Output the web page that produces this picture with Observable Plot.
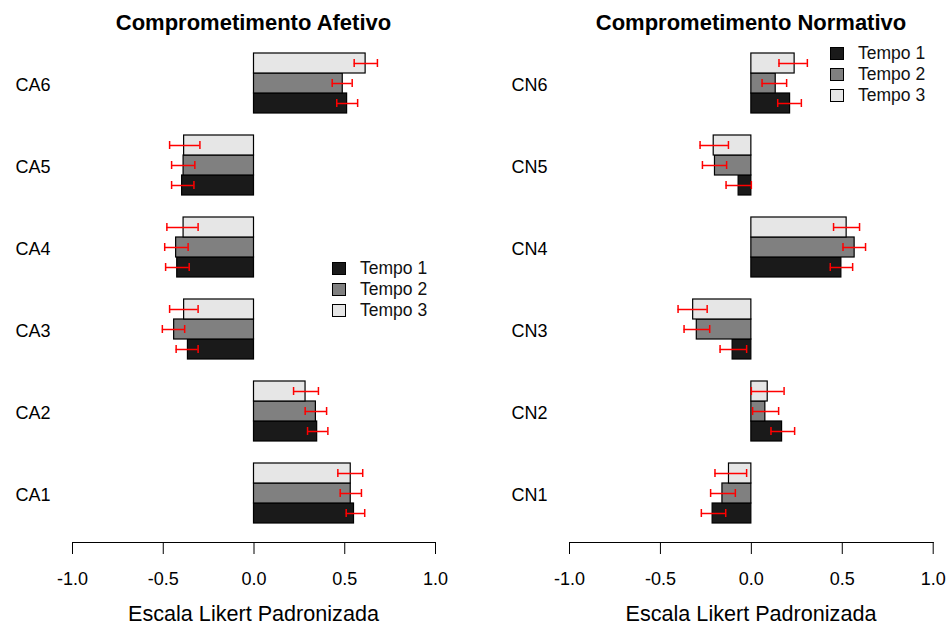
<!DOCTYPE html>
<html><head><meta charset="utf-8">
<script src="https://cdn.jsdelivr.net/npm/d3@7"></script>
<script src="https://cdn.jsdelivr.net/npm/@observablehq/plot@0.6"></script>
<style>
body{margin:0;background:#fff;font-family:"Liberation Sans",Arial,sans-serif;color:#000}
#wrap{position:relative;width:949px;height:631px;overflow:hidden;background:#fff}
#wrap svg{position:absolute;top:0}
.t{position:absolute;white-space:nowrap;transform:translate(-50%,-50%)}
.title{font-weight:bold;font-size:22px}
.xlab{font-size:21.6px}
.leg{position:absolute;font-size:17.5px;line-height:21px;color:#111}
.leg div{display:flex;align-items:center;height:21px}
.leg span.sw{display:inline-block;width:12px;height:11px;border:1px solid #000;margin-right:14px}
</style></head><body><div id="wrap"></div><script>
// ---- data ----
const tempos = ["Tempo 1", "Tempo 2", "Tempo 3"];
const fills = ["#1a1a1a", "#808080", "#e6e6e6"];
const xTicks = [-1, -0.5, 0, 0.5, 1];

const catsA = ["CA1", "CA2", "CA3", "CA4", "CA5", "CA6"];
const meanA_T1 = [0.551, 0.348, -0.364, -0.423, -0.396, 0.513];
const meanA_T2 = [0.533, 0.341, -0.440, -0.429, -0.388, 0.489];
const meanA_T3 = [0.533, 0.284, -0.385, -0.388, -0.385, 0.615];
const loA_T1 = [0.508, 0.295, -0.429, -0.487, -0.454, 0.456];
const hiA_T1 = [0.610, 0.407, -0.308, -0.357, -0.331, 0.571];
const loA_T2 = [0.475, 0.282, -0.505, -0.492, -0.454, 0.431];
const hiA_T2 = [0.592, 0.400, -0.382, -0.363, -0.326, 0.541];
const loA_T3 = [0.462, 0.218, -0.465, -0.480, -0.465, 0.552];
const hiA_T3 = [0.599, 0.355, -0.308, -0.308, -0.298, 0.680];

const catsN = ["CN1", "CN2", "CN3", "CN4", "CN5", "CN6"];
const meanN_T1 = [-0.213, 0.169, -0.103, 0.495, -0.070, 0.213];
const meanN_T2 = [-0.159, 0.077, -0.300, 0.568, -0.200, 0.134];
const meanN_T3 = [-0.123, 0.090, -0.320, 0.524, -0.207, 0.238];
const loN_T1 = [-0.275, 0.108, -0.172, 0.434, -0.139, 0.145];
const hiN_T1 = [-0.141, 0.238, -0.026, 0.557, 0.000, 0.275];
const loN_T2 = [-0.224, 0.007, -0.370, 0.504, -0.269, 0.059];
const hiN_T2 = [-0.088, 0.150, -0.229, 0.628, -0.136, 0.194];
const loN_T3 = [-0.200, 0.000, -0.403, 0.452, -0.282, 0.152];
const hiN_T3 = [-0.026, 0.180, -0.243, 0.595, -0.126, 0.308];

const titleA = "Comprometimento Afetivo";
const titleN = "Comprometimento Normativo";
const xLabel = "Escala Likert Padronizada";

// ---- build tables ----
function rows(cats, means, los, his) {
  const out = [];
  cats.forEach((c, i) => {
    tempos.forEach((t, k) => {
      out.push({cat: c, tempo: t, mean: means[k][i], lo: los[k][i], hi: his[k][i]});
    });
  });
  return out;
}
const dataA = rows(catsA, [meanA_T1, meanA_T2, meanA_T3], [loA_T1, loA_T2, loA_T3], [hiA_T1, hiA_T2, hiA_T3]);
const dataN = rows(catsN, [meanN_T1, meanN_T2, meanN_T3], [loN_T1, loN_T2, loN_T3], [hiN_T1, hiN_T2, hiN_T3]);

const FONT = '"Liberation Sans", Arial, sans-serif';

function panel(data, cats, width, marginLeft, marginRight) {
  return Plot.plot({
    width, height: 631,
    marginLeft, marginRight, marginTop: 51, marginBottom: 107,
    x: {domain: [-1, 1]},
    y: {domain: ["Tempo 3", "Tempo 2", "Tempo 1"], padding: 0, axis: null},
    fy: {domain: cats.slice().reverse(), paddingInner: 0.247, paddingOuter: 0},
    color: {domain: tempos, range: fills},
    style: {fontFamily: FONT, fontSize: "18px", color: "#000", background: "transparent", overflow: "visible"},
    marks: [
      Plot.barX(data, {x: "mean", y: "tempo", fy: "cat", fill: "tempo", stroke: "#000", strokeWidth: 1.2}),
      Plot.ruleY(data, {x1: "lo", x2: "hi", y: "tempo", fy: "cat", stroke: "#ff0000", strokeWidth: 1.5}),
      Plot.tickX(data, {x: "lo", y: "tempo", fy: "cat", stroke: "#ff0000", strokeWidth: 1.5, insetTop: 6, insetBottom: 6}),
      Plot.tickX(data, {x: "hi", y: "tempo", fy: "cat", stroke: "#ff0000", strokeWidth: 1.5, insetTop: 6, insetBottom: 6}),
      Plot.axisFy({anchor: "left", tickSize: 0, tickPadding: 22, fontSize: 18, label: null, dy: 2}),
      Plot.axisX({ticks: xTicks, tickFormat: d => d.toFixed(1), tickSize: 12, tickPadding: 18, fontSize: 18, label: null, facetAnchor: "bottom", dy: 18, stroke: "#000"}),
      Plot.frame({anchor: "bottom", facetAnchor: "bottom", dy: 18, stroke: "#000"})
    ]
  });
}

const wrap = document.getElementById("wrap");
const svgA = panel(dataA, catsA, 474, 72, 39);
svgA.style.left = "0px";
wrap.appendChild(svgA);
const svgN = panel(dataN, catsN, 475, 95, 16.3);
svgN.style.left = "474px";
wrap.appendChild(svgN);

function addText(txt, cls, x, y) {
  const d = document.createElement("div");
  d.className = "t " + cls;
  d.textContent = txt;
  d.style.left = x + "px";
  d.style.top = y + "px";
  wrap.appendChild(d);
}
addText(titleA, "title", 253.5, 23);
addText(titleN, "title", 751, 23);
addText(xLabel, "xlab", 253.5, 614);
addText(xLabel, "xlab", 751, 614);

function addLegend(x, y) {
  const L = document.createElement("div");
  L.className = "leg";
  L.style.left = x + "px";
  L.style.top = y + "px";
  tempos.forEach((t, k) => {
    const r = document.createElement("div");
    const s = document.createElement("span");
    s.className = "sw";
    s.style.background = fills[k];
    r.appendChild(s);
    r.appendChild(document.createTextNode(t));
    L.appendChild(r);
  });
  wrap.appendChild(L);
}
addLegend(332, 258);
addLegend(830, 43);
</script></body></html>
